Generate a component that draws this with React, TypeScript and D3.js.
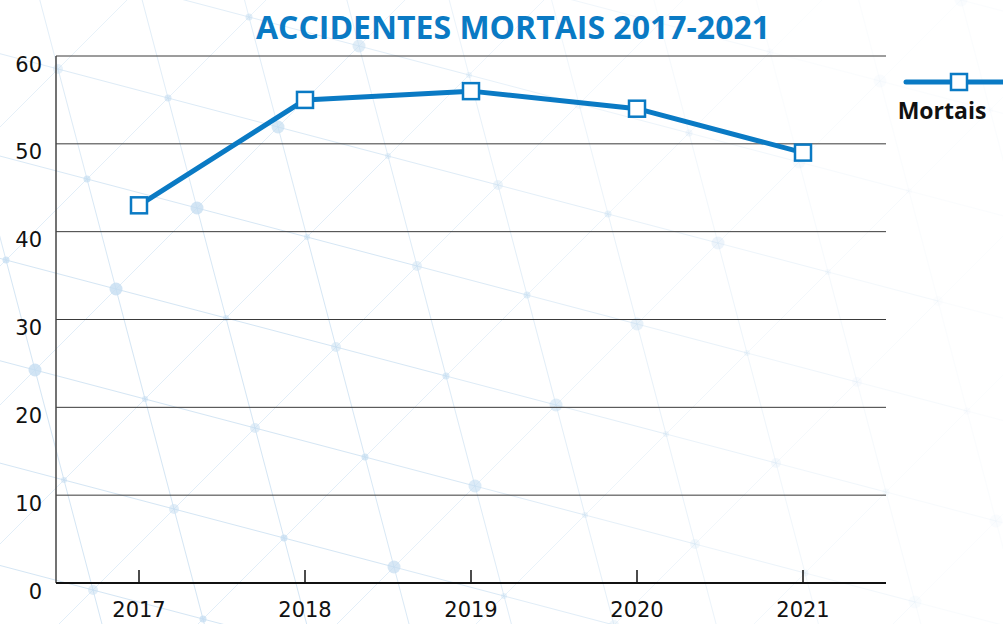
import React from "react";
import * as d3 from "d3";

const years = ["2017", "2018", "2019", "2020", "2021"];
const mortais = [43, 55, 56, 54, 49];
const yTicks = [0, 10, 20, 30, 40, 50, 60];
const title = "ACCIDENTES MORTAIS 2017-2021";
const seriesName = "Mortais";

const W = 1003;
const H = 624;
const M = { left: 56, right: 886, top: 56, bottom: 583 };
const BLUE = "#0a7ac4";
const TICKFONT = "'DejaVu Sans', sans-serif";

function Background() {
  // decorative lattice (not data)
  const ox = 116, oy = 289;
  const u = [110, 29];
  const v = [29, 110];
  const nodes: { x: number; y: number; i: number; j: number }[] = [];
  for (let i = -6; i <= 10; i++) {
    for (let j = -6; j <= 8; j++) {
      const x = ox + i * u[0] + j * v[0];
      const y = oy + i * u[1] + j * v[1];
      if (x < -150 || x > W + 150 || y < -150 || y > H + 150) continue;
      nodes.push({ x, y, i, j });
    }
  }
  const fade = (x: number, y: number) => {
    const f = 1 - Math.max(0, (x - 300) / 600) * 0.85 - Math.max(0, (250 - y) / 250) * 0.3;
    return Math.max(0.1, f);
  };
  const lines: JSX.Element[] = [];
  nodes.forEach((n, k) => {
    const a = fade(n.x, n.y);
    const ends = [
      [n.x + u[0], n.y + u[1], 0.6],
      [n.x + v[0], n.y + v[1], 0.6],
      [n.x + u[0] - v[0], n.y + u[1] - v[1], 0.4],
    ];
    ends.forEach((e, m) => {
      lines.push(
        <line key={`l${k}-${m}`} x1={n.x} y1={n.y} x2={e[0]} y2={e[1]}
          stroke="#b9d6ee" strokeWidth={1} opacity={a * (e[2] as number)} />
      );
    });
  });
  return (
    <g>
      {lines}
      {nodes.map((n, k) => {
        const s = ((n.i * 7 + n.j * 3) % 4 + 4) % 4;
        const r = [6.5, 3.5, 5, 3][s];
        const a = fade(n.x, n.y) * [0.8, 0.75, 0.5, 0.55][s];
        return <circle key={`c${k}`} cx={n.x} cy={n.y} r={r} fill="#c5ddf1" opacity={a} />;
      })}
    </g>
  );
}

export default function App() {
  const x = d3.scaleBand<string>().domain(years).range([M.left, M.right]);
  const y = d3.scaleLinear().domain([0, 60]).range([M.bottom, M.top]);
  const cx = (d: string) => (x(d) as number) + x.bandwidth() / 2;
  const line = d3
    .line<number>()
    .x((_, i) => cx(years[i]))
    .y((d) => y(d));
  const sq = 16;

  return (
    <svg width={W} height={H} style={{ position: "absolute", left: 0, top: 0, background: "#fff" }}>
      <rect x={0} y={0} width={W} height={H} fill="#fff" />
      <Background />
      <text x={513} y={39} textAnchor="middle" fontFamily="'Open Sans', sans-serif" fontWeight={700}
        fontSize={32} fill={BLUE}>
        {title}
      </text>
      {yTicks.map((t) =>
        t > 0 ? (
          <line key={`g${t}`} x1={M.left} x2={M.right} y1={y(t)} y2={y(t)} stroke="#3a3a3a" strokeWidth={1} />
        ) : null
      )}
      {yTicks.map((t) => (
        <text key={`yt${t}`} x={42} y={y(t) + 15.5} textAnchor="end" fontFamily={TICKFONT}
          fontSize={21} fill="#111">
          {t}
        </text>
      ))}
      <line x1={M.left} x2={M.left} y1={M.top} y2={M.bottom} stroke="#444" strokeWidth={1.5} />
      <line x1={M.left} x2={M.right} y1={M.bottom} y2={M.bottom} stroke="#111" strokeWidth={2} />
      {years.map((yr) => (
        <g key={yr}>
          <line x1={cx(yr)} x2={cx(yr)} y1={M.bottom - 13} y2={M.bottom} stroke="#111" strokeWidth={1.5} />
          <text x={cx(yr)} y={617} textAnchor="middle" fontFamily={TICKFONT} fontSize={21} fill="#111">
            {yr}
          </text>
        </g>
      ))}
      <path d={line(mortais) || ""} fill="none" stroke={BLUE} strokeWidth={5} strokeLinejoin="round" />
      {mortais.map((d, i) => (
        <rect key={`m${i}`} x={cx(years[i]) - sq / 2} y={y(d) - sq / 2} width={sq} height={sq}
          fill="#fff" stroke={BLUE} strokeWidth={2.5} />
      ))}
      <line x1={906} x2={1010} y1={82} y2={82} stroke={BLUE} strokeWidth={5} strokeLinecap="round" />
      <rect x={959 - sq / 2} y={82 - sq / 2} width={sq} height={sq} fill="#fff" stroke={BLUE} strokeWidth={2.5} />
      <text x={942} y={119} textAnchor="middle" fontFamily="'Open Sans', sans-serif" fontWeight={700}
        fontSize={23} fill="#111">
        {seriesName}
      </text>
    </svg>
  );
}
